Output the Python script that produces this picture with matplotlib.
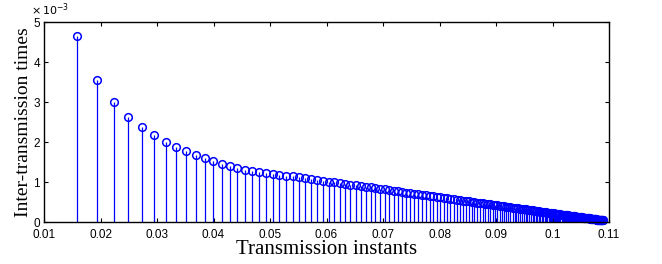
import numpy as np
import matplotlib
matplotlib.use("Agg")
import matplotlib.pyplot as plt
from matplotlib.ticker import FuncFormatter

# inter-transmission times, in units of 1e-3
first_times = [4.66, 3.56, 3.00, 2.63, 2.38, 2.17, 2.01, 1.88, 1.78, 1.68,
               1.60, 1.53, 1.45, 1.40, 1.36]
tail_times = [
    1.310, 1.284, 1.259, 1.234, 1.210, 1.187, 1.163, 1.140, 1.118, 1.096,
    1.075, 1.054, 1.033, 1.013, 0.993, 0.973, 0.954, 0.936, 0.917, 0.899,
    0.882, 0.864, 0.847, 0.831, 0.814, 0.798, 0.783, 0.767, 0.752, 0.738,
    0.723, 0.709, 0.695, 0.682, 0.668, 0.655, 0.642, 0.630, 0.617, 0.605,
    0.593, 0.582, 0.570, 0.559, 0.548, 0.537, 0.527, 0.517, 0.506, 0.496,
    0.487, 0.477, 0.468, 0.459, 0.450, 0.441, 0.432, 0.424, 0.415, 0.407,
    0.399, 0.391, 0.384, 0.376, 0.369, 0.362, 0.355, 0.348, 0.341, 0.334,
    0.328, 0.321, 0.315, 0.309, 0.303, 0.297, 0.291, 0.285, 0.280, 0.274,
    0.269, 0.263, 0.258, 0.253, 0.248, 0.243, 0.238, 0.234, 0.229, 0.225,
    0.220, 0.216, 0.212, 0.208, 0.204, 0.200, 0.196, 0.192, 0.188, 0.184,
    0.181, 0.177, 0.174, 0.170, 0.167, 0.164, 0.161, 0.157, 0.154, 0.151,
    0.148, 0.145, 0.143, 0.140, 0.137, 0.134, 0.132, 0.129, 0.127, 0.124,
    0.122, 0.119, 0.117, 0.115, 0.112, 0.110, 0.108, 0.106, 0.104, 0.102,
    0.100, 0.098, 0.096, 0.094, 0.092, 0.090, 0.089, 0.087, 0.085, 0.084,
    0.082, 0.080, 0.079, 0.077, 0.076, 0.074, 0.073, 0.071, 0.070, 0.069,
    0.067, 0.066, 0.065, 0.063, 0.062, 0.061, 0.060, 0.059, 0.057, 0.056,
    0.055, 0.054, 0.053, 0.052, 0.051, 0.050, 0.049, 0.048, 0.047, 0.046,
    0.045, 0.044, 0.043, 0.043, 0.042,
]
start_time = 0.0111  # instant before the first transmission

intervals = np.array(first_times + tail_times) * 1e-3
instants = start_time + np.cumsum(intervals)

xticks = [0.01, 0.02, 0.03, 0.04, 0.05, 0.06, 0.07, 0.08, 0.09, 0.1, 0.11]
xticklabels = ['0.01', '0.02', '0.03', '0.04', '0.05', '0.06', '0.07',
               '0.08', '0.09', '0.1', '0.11']

plt.rcParams['font.family'] = ['Liberation Sans', 'DejaVu Sans']
plt.rcParams['mathtext.fontset'] = 'dejavusans'

fig = plt.figure(figsize=(6.62, 2.64), dpi=100)
ax = fig.add_axes([0.0665, 0.159, 0.8535, 0.7576])

blue = '#0000ff'
markers, stems, base = ax.stem(instants, intervals, basefmt=' ')
plt.setp(stems, color=blue, linewidth=0.9)
plt.setp(markers, color=blue, marker='o', markersize=5.5,
         markerfacecolor='none', markeredgewidth=1.1, clip_on=False)

ax.set_xlim(0.01, 0.11)
ax.set_ylim(0, 5e-3)
ax.set_xticks(xticks)
ax.set_xticklabels(xticklabels)
ax.set_yticks(np.arange(0, 6) * 1e-3)
ax.yaxis.set_major_formatter(FuncFormatter(lambda v, p: f'{v * 1e3:g}'))

# MATLAB-style exponent label above the y axis
fig.text(0.047, 0.962, r'$\times\,10^{-3}$', fontsize=8, va='center', ha='left')

ax.tick_params(direction='in', top=True, right=True, length=3,
               labelsize=8.5, width=0.8)
ax.tick_params(axis='x', pad=5)
ax.tick_params(axis='y', pad=3)
for sp in ax.spines.values():
    sp.set_linewidth(1.0)

ax.set_xlabel('Transmission instants', family='Liberation Serif',
              fontsize=15, labelpad=-1)
ax.set_ylabel('Inter-transmission times', family='Liberation Serif',
              fontsize=14, labelpad=1)

fig.savefig('out.png', dpi=100)
